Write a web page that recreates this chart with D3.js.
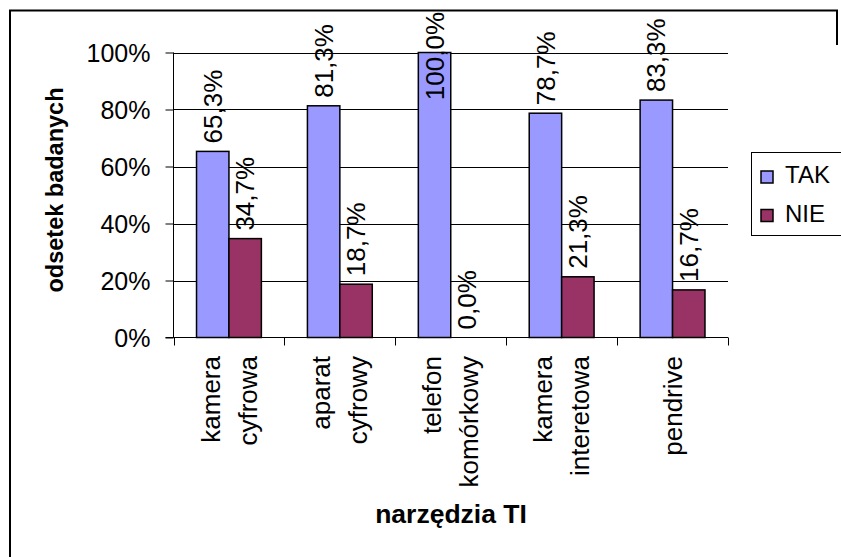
<!DOCTYPE html>
<html><head><meta charset="utf-8">
<script src="https://cdn.jsdelivr.net/npm/d3@7"></script>
<style>html,body{margin:0;padding:0;background:#fff;}svg{display:block;}text{font-family:"Liberation Sans",Arial,sans-serif;}</style>
</head><body>
<svg id="c" width="841" height="557"></svg>
<script>
const categories = [["kamera","cyfrowa"],["aparat","cyfrowy"],["telefon","komórkowy"],["kamera","interetowa"],["pendrive"]];
const series = ["TAK","NIE"];
const tak = [0.653, 0.813, 1.000, 0.787, 0.833];
const nie = [0.347, 0.187, 0.000, 0.213, 0.167];
const yTicks = [0, 0.2, 0.4, 0.6, 0.8, 1.0];
const colors = {TAK:"#9999FF", NIE:"#993366"};
const values = {TAK: tak, NIE: nie};

const loc = d3.formatLocale({decimal:",", thousands:" ", grouping:[3], currency:["","zł"]});
const fmtVal = loc.format(".1%");
const fmtTick = loc.format(".0%");

const svg = d3.select("#c");
// outer frame
svg.append("path").attr("d","M10,600 L10,10.5 L837,10.5 L837,45").attr("fill","none").attr("stroke","#000").attr("stroke-width",2);

const L=173.5, R=728, T=52.5, B=337.5;
const y = d3.scaleLinear().domain([0,1]).range([B,T]);
const keys = categories.map((c,i)=>i);
const x0 = d3.scaleBand().domain(keys).range([L,R]).padding(0);
const x1 = d3.scaleBand().domain(series).range([0,x0.bandwidth()]).paddingInner(0).paddingOuter(0.71);

// gridlines
svg.append("g").selectAll("line").data(yTicks.filter(d=>d>0)).join("line")
  .attr("x1",L).attr("x2",R).attr("y1",d=>Math.round(y(d))+0.5).attr("y2",d=>Math.round(y(d))+0.5)
  .attr("stroke","#000").attr("stroke-width",1);

// bars
const g = svg.append("g");
series.forEach(s=>{
  g.selectAll(null).data(values[s]).join("rect")
    .attr("x",(d,i)=>x0(i)+x1(s)).attr("width",x1.bandwidth())
    .attr("y",d=>y(d)).attr("height",d=>B-y(d))
    .attr("fill",colors[s]).attr("stroke","#000").attr("stroke-width",1.5);
});

// y axis
const ya = svg.append("g").attr("transform",`translate(${L},0)`)
  .call(d3.axisLeft(y).tickValues(yTicks).tickFormat(fmtTick).tickSize(8).tickPadding(15));
ya.select(".domain").attr("d",`M0,${T}V${B}`).attr("stroke","#000");
ya.selectAll(".tick line").attr("stroke","#000");
ya.selectAll(".tick text").attr("font-size",25).attr("fill","#000").attr("font-family","Liberation Sans, Arial, sans-serif").attr("dy","0.36em");

// x axis
svg.append("line").attr("x1",L-8).attr("x2",R).attr("y1",B).attr("y2",B).attr("stroke","#000");
const bounds = keys.map(i=>x0(i)).concat([R]);
svg.append("g").selectAll("line").data(bounds).join("line")
  .attr("x1",d=>Math.round(d)+0.5).attr("x2",d=>Math.round(d)+0.5).attr("y1",B).attr("y2",B+8).attr("stroke","#000");

// category labels
const lineGap = 37;
categories.forEach((lines,i)=>{
  const cx = x0(i)+x0.bandwidth()/2;
  lines.forEach((t,j)=>{
    const lx = cx + (j-(lines.length-1)/2)*lineGap;
    svg.append("text").attr("transform",`translate(${lx},356) rotate(-90)`)
      .attr("text-anchor","end").attr("dy","0.35em").attr("font-size",26).attr("fill","#000").text(t);
  });
});

// value labels
series.forEach(s=>{
  values[s].forEach((v,i)=>{
    const cx = x0(i)+x1(s)+x1.bandwidth()/2;
    const t = svg.append("text").attr("font-size",26).attr("fill","#000").attr("dy","0.35em").text(fmtVal(v));
    const len = t.node().getComputedTextLength();
    const start = Math.max(y(v)-8, 12+len);
    t.attr("transform",`translate(${cx},${start}) rotate(-90)`);
  });
});

// axis titles
svg.append("text").attr("transform","translate(55,190) rotate(-90)").attr("text-anchor","middle").attr("dy","0.35em")
  .attr("font-size",23.5).attr("font-weight","bold").attr("fill","#000").text("odsetek badanych");
svg.append("text").attr("x",451).attr("y",523).attr("text-anchor","middle")
  .attr("font-size",26.5).attr("font-weight","bold").attr("fill","#000").text("narzędzia TI");

// legend
const lg = svg.append("g");
lg.append("rect").attr("x",751.5).attr("y",152.5).attr("width",120).attr("height",83).attr("fill","#fff").attr("stroke","#000").attr("stroke-width",1);
series.forEach((s,i)=>{
  const yy = 171 + i*38.5;
  lg.append("rect").attr("x",761).attr("y",yy).attr("width",12).attr("height",12).attr("fill",colors[s]).attr("stroke","#000").attr("stroke-width",1.5);
  lg.append("text").attr("x",785).attr("y",yy+12).attr("font-size",24).attr("fill","#000").text(s);
});
</script>
</body></html>
